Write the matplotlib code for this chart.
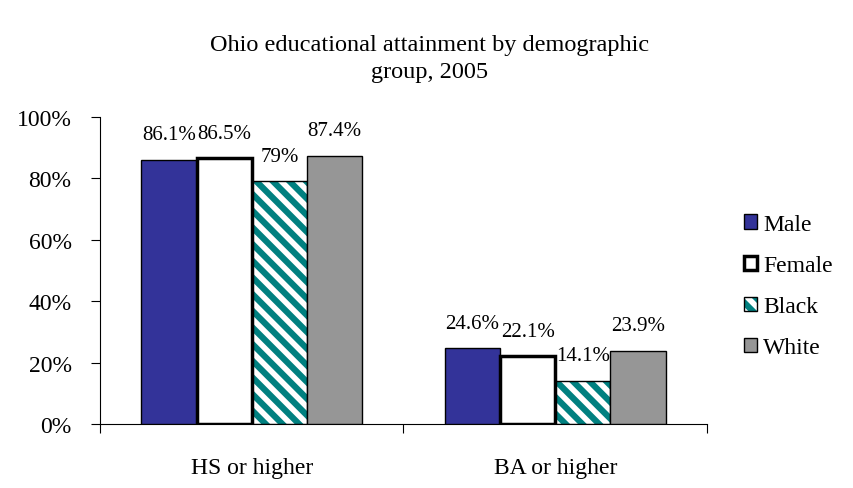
import matplotlib
matplotlib.use("Agg")
import matplotlib.pyplot as plt
import numpy as np

categories = ["HS or higher", "BA or higher"]
series_names = ["Male", "Female", "Black", "White"]
male = [86.1, 24.6]
female = [86.5, 22.1]
black = [79.0, 14.1]
white = [87.4, 23.9]
labels = [["86.1%", "24.6%"], ["86.5%", "22.1%"], ["79%", "14.1%"], ["87.4%", "23.9%"]]
yticks = [0, 20, 40, 60, 80, 100]
ytick_labels = ["0%", "20%", "40%", "60%", "80%", "100%"]
title = "Ohio educational attainment by demographic\ngroup, 2005"

plt.rcParams['font.family'] = ['Liberation Serif', 'DejaVu Serif']
plt.rcParams['hatch.linewidth'] = 4.0

fig = plt.figure(figsize=(8.54, 4.89), dpi=100)
ax = fig.add_axes([100/854, 1-425/489, 607/854, 307/489])

x = np.arange(len(categories))
w = 0.182
series = [male, female, black, white]
offsets = [-1.5, -0.5, 0.5, 1.5]
faces = ["#333399", "#ffffff", "#008080", "#969696"]
lws = [1.0, 2.5, 1.0, 1.0]
handles = []
for i, (vals, off, fc, lw) in enumerate(zip(series, offsets, faces, lws)):
    pos = x + off * w
    if i == 2:
        ax.bar(pos, vals, w, facecolor=fc, edgecolor="white", hatch="\\\\", linewidth=0, zorder=2)
        ax.bar(pos, vals, w, facecolor="none", edgecolor="black", linewidth=lw, zorder=3)
        h = plt.Rectangle((0, 0), 1, 1, facecolor=fc, edgecolor="white", hatch="\\\\", linewidth=0)
        handles.append((h, plt.Rectangle((0, 0), 1, 1, facecolor="none", edgecolor="black", linewidth=1)))
    else:
        ax.bar(pos, vals, w, facecolor=fc, edgecolor="black", linewidth=lw, zorder=3)
        handles.append(plt.Rectangle((0, 0), 1, 1, facecolor=fc, edgecolor="black", linewidth=lw))
    for p, v, lab in zip(pos, vals, labels[i]):
        ax.annotate(lab, (p, v), xytext=(0, 18), textcoords="offset points",
                    ha="center", va="center", fontsize=15)

ax.set_xlim(-0.5, 1.5)
ax.set_ylim(0, 100)
ax.set_yticks(yticks)
ax.set_yticklabels(ytick_labels, fontsize=17)
ax.set_xticks([-0.5, 0.5, 1.5])
ax.set_xticklabels([])
ax.set_xticks(x, minor=True)
ax.set_xticklabels(categories, minor=True, fontsize=17)
ax.tick_params(axis="x", which="minor", length=0, pad=24)
ax.tick_params(axis="x", which="major", length=6.5, direction="out")
ax.tick_params(axis="y", length=6.5, direction="out", pad=14)
ax.spines["top"].set_visible(False)
ax.spines["right"].set_visible(False)

fig.text(430/854, 1-59/489, title, ha="center", va="center", fontsize=17.5, linespacing=1.4)

leg = fig.legend(handles, series_names, loc="center left", bbox_to_anchor=(744/854, 1-287/489),
                 frameon=False, fontsize=17, handlelength=0.55, handleheight=0.55,
                 handletextpad=0.25, labelspacing=0.85, borderpad=0, borderaxespad=0)

fig.savefig("out.png", dpi=100)
